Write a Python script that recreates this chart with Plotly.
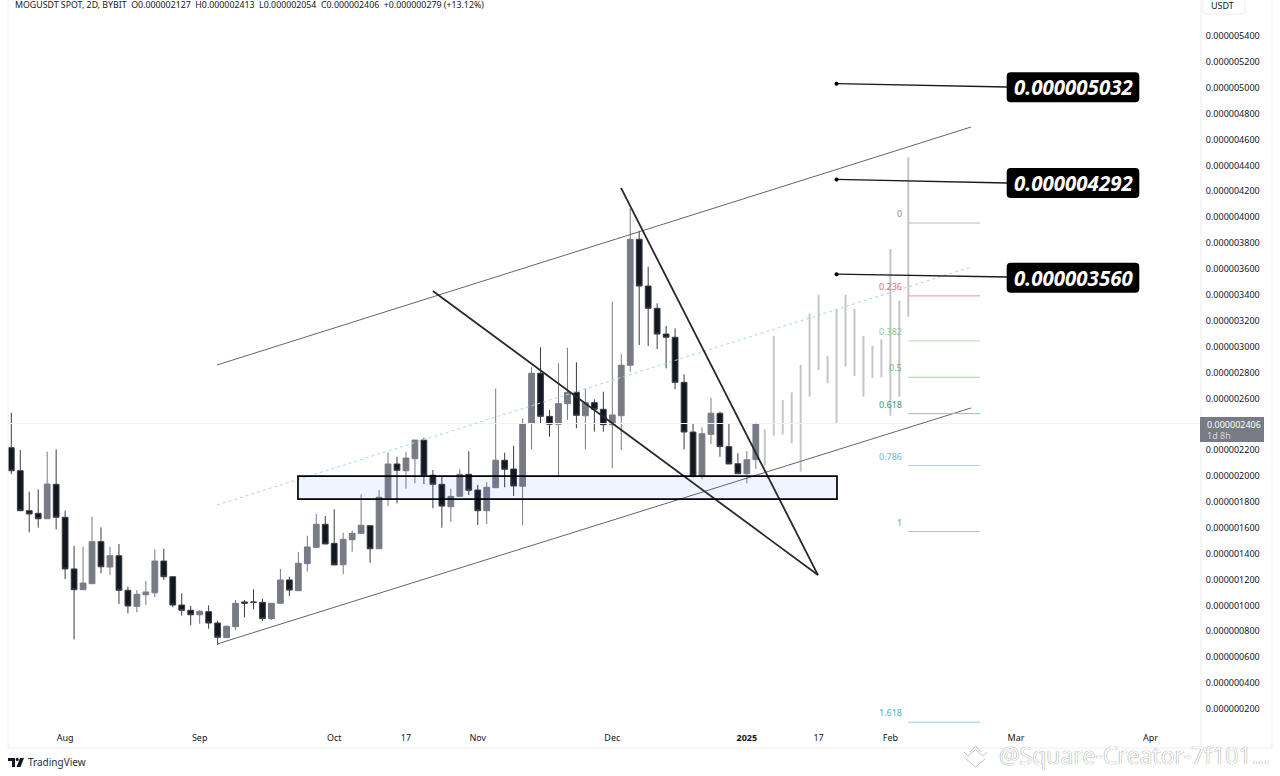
import plotly.graph_objects as go

UNIT = 1e-6  # all price lists below are in millionths of USDT

opens = [2.219,2.041,1.732,1.712,1.670,1.936,1.681,1.282,1.122,1.168,1.493,1.297,1.384,1.117,0.993,1.083,1.098,1.343,1.222,1.003,
         0.963,0.928,0.952,0.864,0.751,0.836,1.027,1.027,1.024,0.898,1.017,1.197,1.114,1.323,1.449,1.627,1.480,1.315,1.508,1.557,
         1.616,1.438,1.830,2.093,2.041,2.134,2.278,2.006,1.936,1.763,1.843,2.013,1.892,1.732,1.910,2.122,2.054,1.921,2.407,2.794,
         2.461,2.400,2.559,2.647,2.466,2.567,2.516,2.397,2.466,2.856,3.829,3.468,3.296,3.097,3.072,2.724,2.340,2.000,2.322,2.485,
         2.227,2.095,2.018,2.127]
highs = [2.489,2.201,1.879,1.897,2.188,2.206,1.732,1.459,1.454,1.686,1.604,1.454,1.475,1.145,1.119,1.189,1.434,1.438,1.222,1.094,
         0.996,0.965,1.001,0.882,0.844,1.042,1.042,1.125,1.052,1.017,1.282,1.222,1.413,1.539,1.707,1.691,1.743,1.562,1.578,1.859,
         1.616,1.892,2.183,2.149,2.186,2.278,2.296,2.047,1.995,1.902,2.052,2.191,1.931,1.952,2.675,2.180,2.234,2.446,2.840,2.995,
         2.510,2.871,2.992,2.879,2.678,2.593,2.652,3.347,2.943,4.069,3.896,3.618,3.335,3.159,3.141,2.786,2.407,2.377,2.605,2.497,
         2.402,2.176,2.193,2.413]
lows = [2.016,1.732,1.565,1.601,1.670,1.588,1.204,0.738,1.122,1.168,1.248,1.235,1.011,0.939,0.947,1.003,1.065,1.197,0.986,0.921,
        0.847,0.859,0.820,0.694,0.751,0.810,0.908,0.970,0.880,0.888,1.017,1.073,1.114,1.261,1.449,1.475,1.313,1.241,1.415,1.557,
        1.330,1.438,1.768,1.789,1.902,1.944,1.938,1.751,1.601,1.647,1.843,1.853,1.622,1.629,1.910,1.913,1.846,1.622,2.206,2.407,
        2.304,2.000,2.433,2.369,2.206,2.343,2.343,2.060,2.201,2.806,3.012,3.005,2.981,2.832,2.670,2.206,1.990,1.975,2.247,2.149,
        2.093,2.018,1.944,2.054]
closes = [2.041,1.732,1.707,1.670,1.938,1.681,1.282,1.122,1.173,1.493,1.299,1.384,1.117,0.996,1.086,1.104,1.343,1.222,1.003,0.963,
          0.928,0.955,0.864,0.754,0.839,1.017,1.017,1.024,0.898,1.017,1.197,1.119,1.326,1.452,1.627,1.475,1.313,1.511,1.557,1.619,
          1.438,1.836,2.093,2.044,2.139,2.278,2.006,1.936,1.768,1.843,2.013,1.890,1.732,1.913,2.122,2.052,1.923,2.407,2.794,2.461,
          2.400,2.559,2.647,2.469,2.567,2.516,2.397,2.472,2.856,3.829,3.468,3.296,3.097,3.072,2.724,2.340,2.000,2.327,2.485,2.227,
          2.093,2.018,2.126,2.406]

ghost_highs = [2.361,3.082,2.588,2.647,2.858,3.257,3.401,2.928,3.283,3.401,3.291,3.082,3.005,3.056,3.754,3.355,4.463]
ghost_lows = [2.078,2.312,2.322,2.253,2.033,2.613,2.819,2.717,2.402,2.845,2.773,2.613,2.758,2.763,2.466,2.613,3.231]

bar_index = list(range(len(opens)))
ghost_index = list(range(len(opens), len(opens) + len(ghost_highs)))

price_ticks = [0.2,0.4,0.6,0.8,1.0,1.2,1.4,1.6,1.8,2.0,2.2,2.4,2.6,2.8,3.0,3.2,3.4,3.6,3.8,4.0,4.2,4.4,4.6,4.8,5.0,5.2,5.4]
time_ticks = [6,21,36,44,52,67,82,90,98,112,127]
time_labels = ["Aug","Sep","Oct","17","Nov","Dec","<b>2025</b>","17","Feb","Mar","Apr"]

fib_ratios = ["0","0.236","0.382","0.5","0.618","0.786","1","1.618"]
fib_prices = [3.955,3.392,3.044,2.763,2.482,2.081,1.571,0.098]
fib_colors = ["#8a8d96","#e06a72","#8cc990","#6fb873","#2a9d8f","#6db5e8","#8a8d96","#45b0d0"]
fib_line_colors = ["#b9bbc1","#e79aa0","#b4dcb6","#a3d2a6","#85c6bf","#a8d4ef","#b9bbc1","#8ccde2"]

channel_x = [22.93,107]
channel_lower = [0.702,2.526]
channel_upper = [2.858,4.697]
channel_mid = [1.776,3.615]
wedge_left_x = [47,89.93]
wedge_left_y = [3.430,1.235]
wedge_right_x = [67.97,89.93]
wedge_right_y = [4.226,1.235]
zone_x = [31.96,92.05]
zone_y = [1.822,2.000]

target_labels = ["0.000005032","0.000004292","0.000003560"]
target_prices = [5.032,4.292,3.560]
target_ends = [5.006,4.264,3.538]
target_x = [92,111]
last_price = 2.406

W, H = 1280, 776
L, R, T, B = 8, 1201, 0, 727
FONT = "Noto Sans"
INK = "#131722"

def px(x):
    return (x - L) / (R - L)

def py(y):
    return (B - y) / (B - T)

def rounded(x0, y0, x1, y1, r):
    a, b, c, d = px(x0), py(y0), px(x1), py(y1)
    rx, ry = r / (R - L), r / (B - T)
    return (f"M{a+rx},{b} L{c-rx},{b} Q{c},{b} {c},{b-ry} L{c},{d+ry} Q{c},{d} {c-rx},{d} "
            f"L{a+rx},{d} Q{a},{d} {a},{d+ry} L{a},{b-ry} Q{a},{b} {a+rx},{b} Z")

def poly(points, close=True):
    s = "M" + " L".join(f"{px(x)},{py(y)}" for x, y in points)
    return s + (" Z" if close else "")

def scale(values):
    return [v * UNIT for v in values]

fig = go.Figure()

# Projected (ghost) path
gx, gy = [], []
for i, hi, lo in zip(ghost_index, ghost_highs, ghost_lows):
    gx += [i, i, None]
    gy += [hi * UNIT, lo * UNIT, None]
fig.add_trace(go.Scatter(x=gx, y=gy, mode="lines", line=dict(color="#c4c5c8", width=2), hoverinfo="skip"))

# Last price line
fig.add_trace(go.Scatter(x=[-1, 133], y=scale([last_price, last_price]), mode="lines",
                         line=dict(color="#f1f2f4", width=1), hoverinfo="skip"))

fig.add_trace(go.Candlestick(
    x=bar_index, open=scale(opens), high=scale(highs), low=scale(lows), close=scale(closes),
    increasing=dict(line=dict(color="#787b86", width=1), fillcolor="#787b86"),
    decreasing=dict(line=dict(color="#3a3c44", width=1), fillcolor=INK),
    whiskerwidth=0,
))

def line(x, y, color, width, dash="solid"):
    fig.add_trace(go.Scatter(x=x, y=scale(y), mode="lines", line=dict(color=color, width=width, dash=dash),
                             hoverinfo="skip"))

line(channel_x, channel_lower, "#63656d", 1)
line(channel_x, channel_upper, "#63656d", 1)
line(channel_x, channel_mid, "#a9d6dc", 1, "3px,3px")
line(wedge_left_x, wedge_left_y, "#26282e", 1.8)
line(wedge_right_x, wedge_right_y, "#26282e", 1.8)

for price, color in zip(fib_prices, fib_line_colors):
    line([100, 108], [price, price], color, 1)

for price, end in zip(target_prices, target_ends):
    fig.add_trace(go.Scatter(x=target_x, y=scale([price, end]), mode="lines", line=dict(color="#1a1a1a", width=1.3),
                             hoverinfo="skip"))
    fig.add_trace(go.Scatter(x=target_x[:1], y=scale([price]), mode="markers",
                             marker=dict(color="#000000", size=4), hoverinfo="skip"))

shapes = [
    dict(type="rect", x0=zone_x[0], x1=zone_x[1], y0=zone_y[0] * UNIT, y1=zone_y[1] * UNIT, xref="x", yref="y",
         fillcolor="rgba(60,105,240,0.075)", line=dict(color="#000000", width=1.7), layer="above"),
    dict(type="line", xref="paper", yref="paper", x0=px(1201), x1=px(1201), y0=py(0), y1=py(748),
         line=dict(color="#eceef1", width=1)),
    dict(type="line", xref="paper", yref="paper", x0=px(1272), x1=px(1272), y0=py(0), y1=py(748),
         line=dict(color="#eceef1", width=1)),
    dict(type="line", xref="paper", yref="paper", x0=px(8), x1=px(8), y0=py(0), y1=py(748),
         line=dict(color="#eceef1", width=1)),
    dict(type="line", xref="paper", yref="paper", x0=px(8), x1=px(1272), y0=py(748), y1=py(748),
         line=dict(color="#eceef1", width=1)),
    dict(type="path", xref="paper", yref="paper", path=rounded(1203, -4, 1245, 14, 2),
         line=dict(color="#eceef1", width=1)),
    dict(type="rect", xref="paper", yref="paper", x0=px(1200), x1=px(1264), y0=py(417), y1=py(442),
         fillcolor="#787b86", line=dict(width=0)),
    # TradingView mark
    dict(type="path", xref="paper", yref="paper",
         path=poly([(8, 758), (15, 758), (15, 767), (12, 767), (12, 761), (8, 761)]),
         fillcolor=INK, line=dict(width=0)),
    dict(type="circle", xref="paper", yref="paper", x0=px(15.7), x1=px(18.7), y0=py(757.8), y1=py(761),
         fillcolor=INK, line=dict(width=0)),
    dict(type="path", xref="paper", yref="paper",
         path=poly([(20, 758), (24, 758), (20.5, 767), (16.5, 767)]), fillcolor=INK, line=dict(width=0)),
    # Watermark icon
    dict(type="path", xref="paper", yref="paper",
         path=poly([(970, 752), (975.5, 746), (981, 752)], False), line=dict(color="#c6c6c6", width=1)),
    dict(type="path", xref="paper", yref="paper",
         path=poly([(964, 752), (968, 756), (975.5, 749.5), (983, 756), (987, 752)], False),
         line=dict(color="#c6c6c6", width=1)),
    dict(type="path", xref="paper", yref="paper",
         path=poly([(966, 759), (975.5, 767), (985, 759)], False), line=dict(color="#c6c6c6", width=1)),
]
for y0, y1 in [(72.3, 102.3), (168, 198), (262.7, 292.7)]:
    shapes.append(dict(type="path", xref="paper", yref="paper", path=rounded(1006.7, y0, 1139.3, y1, 4),
                       fillcolor="#000000", line=dict(width=0), layer="above"))

annotations = []

def text(s, x, y, size, color=INK, anchor="left", **font):
    annotations.append(dict(text=s, x=px(x), y=py(y), xref="paper", yref="paper", xanchor=anchor, yanchor="middle",
                            showarrow=False, borderpad=0, font=dict(family=font.pop("family", FONT), size=size,
                                                                    color=color, **font)))

sep = "\u00a0\u00a0"
text(sep.join(["MOGUSDT SPOT, 2D, BYBIT", "O0.000002127", "H0.000002413", "L0.000002054", "C0.000002406",
               "+0.000000279 (+13.12%)"]), 13.5, 5, 8.8)
text("USDT", 1210, 5, 9)
text("0.000002406", 1206, 424, 9, "#ffffff")
text("1d 8h", 1206, 435.5, 9, "#d5d6da")
text("TradingView", 27, 762, 10, "#2a2e39")
for label, y in zip(target_labels, [87, 183, 277.5]):
    text(label, 1073, y, 20.5, "#ffffff", anchor="center", family="Open Sans", style="italic", weight=700)
annotations.append(dict(text="@Square-Creator-7f101...", x=px(997), y=py(755), xref="paper", yref="paper",
                        xanchor="left", yanchor="middle", showarrow=False,
                        font=dict(family="Open Sans", size=23, color="#ffffff", shadow="0 0 1px #555555")))
for label, price, color in zip(fib_ratios, fib_prices, fib_colors):
    annotations.append(dict(text=label, x=99.4, y=price * UNIT, xref="x", yref="y", xanchor="right", yanchor="middle",
                            yshift=9.5, showarrow=False, borderpad=0, font=dict(family=FONT, size=9, color=color)))

fig.update_layout(
    width=W, height=H, autosize=False, showlegend=False,
    margin=dict(l=L, r=W - R, t=T, b=H - B, pad=0),
    paper_bgcolor="#ffffff", plot_bgcolor="#ffffff",
    font=dict(family=FONT, size=9, color=INK),
    boxgap=0.36, boxgroupgap=0,
    shapes=shapes, annotations=annotations,
    xaxis=dict(range=[-0.368, 132.63], rangeslider=dict(visible=False), showgrid=False, zeroline=False, showline=False,
               tickmode="array", tickvals=time_ticks, ticktext=time_labels, ticks="outside", ticklen=2,
               tickcolor="#ffffff", tickfont=dict(size=9, color=INK)),
    yaxis=dict(range=[0.0608e-6, 5.6782e-6], side="right", showgrid=False, zeroline=False, showline=False,
               tickmode="array", tickvals=scale(price_ticks), tickformat=".9f", ticks="outside", ticklen=2,
               tickcolor="#ffffff", tickfont=dict(size=9, color=INK)),
)

fig.write_html("out.html", config=dict(displayModeBar=False),
               post_script="document.body.style.margin='0';document.body.style.overflow='hidden';")
